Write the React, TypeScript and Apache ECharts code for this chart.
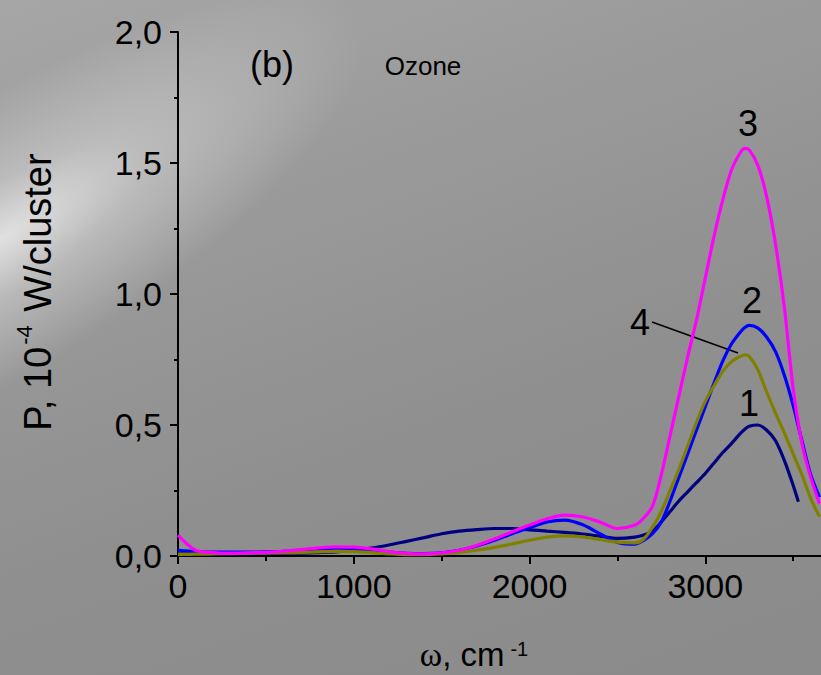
import React, { useEffect, useRef } from 'react';
import * as echarts from 'echarts';

// wavenumber grid (cm^-1)
const omega = [0, 100, 200, 300, 400, 500, 600, 700, 800, 900, 1000, 1100, 1200, 1300, 1400, 1500, 1600, 1700, 1800, 1900, 2000, 2100, 2200, 2300, 2400, 2500, 2600,
  2650, 2700, 2750, 2800, 2850, 2900, 2950, 3000, 3050, 3100, 3150, 3200, 3225, 3250, 3300, 3350, 3400, 3450, 3500, 3550, 3600, 3650];
// curve 1 ends earlier
const omega1 = [0, 100, 200, 300, 400, 500, 600, 700, 800, 900, 1000, 1100, 1200, 1300, 1400, 1500, 1600, 1700, 1800, 1900, 2000, 2100, 2200, 2300, 2400, 2500, 2600,
  2650, 2700, 2750, 2800, 2850, 2900, 2950, 3000, 3050, 3100, 3150, 3200, 3225, 3250, 3300, 3350, 3400, 3450, 3500, 3530];

const curve1 = [0.008, 0.008, 0.008, 0.008, 0.008, 0.009, 0.01, 0.011, 0.013, 0.016, 0.021, 0.03, 0.042, 0.056, 0.07, 0.085, 0.095, 0.101, 0.105, 0.105, 0.1, 0.095, 0.09, 0.084, 0.076, 0.067, 0.072,
  0.08, 0.095, 0.13, 0.17, 0.21, 0.245, 0.28, 0.315, 0.355, 0.395, 0.43, 0.468, 0.484, 0.495, 0.5, 0.48, 0.44, 0.365, 0.27, 0.207];
const curve2 = [0.022, 0.017, 0.015, 0.015, 0.015, 0.016, 0.018, 0.022, 0.027, 0.03, 0.029, 0.023, 0.015, 0.01, 0.009, 0.012, 0.022, 0.038, 0.06, 0.085, 0.108, 0.13, 0.137, 0.12, 0.085, 0.052, 0.045,
  0.06, 0.085, 0.13, 0.21, 0.3, 0.39, 0.48, 0.57, 0.66, 0.745, 0.81, 0.855, 0.872, 0.88, 0.87, 0.835, 0.78, 0.69, 0.575, 0.44, 0.31, 0.225];
const curve3 = [0.08, 0.022, 0.013, 0.011, 0.012, 0.014, 0.018, 0.024, 0.031, 0.035, 0.034, 0.027, 0.017, 0.01, 0.008, 0.012, 0.022, 0.04, 0.065, 0.092, 0.118, 0.142, 0.156, 0.15, 0.13, 0.105, 0.118,
  0.145, 0.19, 0.31, 0.46, 0.61, 0.76, 0.9, 1.06, 1.22, 1.36, 1.475, 1.54, 1.556, 1.55, 1.49, 1.37, 1.19, 0.95, 0.64, 0.43, 0.3, 0.2];
const curve4 = [0.006, 0.007, 0.008, 0.009, 0.01, 0.011, 0.012, 0.014, 0.016, 0.018, 0.017, 0.013, 0.008, 0.005, 0.005, 0.008, 0.014, 0.022, 0.033, 0.046, 0.06, 0.072, 0.077, 0.073, 0.063, 0.053, 0.05,
  0.065, 0.11, 0.17, 0.25, 0.33, 0.42, 0.51, 0.59, 0.65, 0.705, 0.742, 0.762, 0.768, 0.762, 0.71, 0.625, 0.545, 0.47, 0.39, 0.31, 0.22, 0.15];

const curveNames = ['1', '2', '3', '4'];
const curveColors = ['#000080', '#0000ff', '#ff00ff', '#808000'];

const xTickValues = [0, 1000, 2000, 3000];
const xTickLabels = ['0', '1000', '2000', '3000'];
const yTickValues = [0, 0.5, 1, 1.5, 2];
const yTickLabels = ['0,0', '0,5', '1,0', '1,5', '2,0'];

const SANS = '"Liberation Sans", Arial, sans-serif';
const SERIF = '"Liberation Serif", "Times New Roman", serif';

const App = () => {
  const ref = useRef<HTMLDivElement>(null);
  useEffect(() => {
    const chart = echarts.init(ref.current!, null, { renderer: 'svg' });
    const all = [curve1, curve2, curve3, curve4];
    const xs = [omega1, omega, omega, omega];
    const series = all.map((vals, i) => ({
      type: 'line',
      name: curveNames[i],
      data: xs[i].map((x, j) => [x, vals[j]]),
      smooth: 0.3,
      symbol: 'none',
      showSymbol: false,
      lineStyle: { color: curveColors[i], width: 3.2 },
      itemStyle: { color: curveColors[i] },
      z: i === 2 ? 5 : 3,
    }));
    const txt = (text: string, x: number, y: number, size: number) => ({
      type: 'text',
      x,
      y,
      style: { text, fill: '#000', font: `${size}px ${SANS}`, align: 'center', verticalAlign: 'middle' },
    });
    chart.setOption({
      animation: false,
      backgroundColor: 'transparent',
      grid: { left: 178, top: 32, width: 704.6, height: 524 },
      xAxis: {
        type: 'value',
        min: 0,
        max: 4000,
        interval: 1000,
        axisLine: { show: true, onZero: false, lineStyle: { color: '#000', width: 2 } },
        axisTick: { show: true, length: 8, lineStyle: { color: '#000', width: 2 } },
        minorTick: { show: true, splitNumber: 2, length: 5, lineStyle: { color: '#000', width: 2 } },
        splitLine: { show: false },
        axisLabel: {
          margin: 13,
          color: '#000',
          fontSize: 34,
          fontFamily: SANS,
          formatter: (v: number) => {
            const k = xTickValues.indexOf(v);
            return k >= 0 ? xTickLabels[k] : '';
          },
        },
      },
      yAxis: {
        type: 'value',
        min: 0,
        max: 2,
        interval: 0.5,
        axisLine: { show: true, lineStyle: { color: '#000', width: 2 } },
        axisTick: { show: true, length: 8, lineStyle: { color: '#000', width: 2 } },
        minorTick: { show: true, splitNumber: 2, length: 4, lineStyle: { color: '#000', width: 2 } },
        splitLine: { show: false },
        axisLabel: {
          margin: 16,
          color: '#000',
          fontSize: 34,
          fontFamily: SANS,
          formatter: (v: number) => {
            const k = yTickValues.findIndex((t) => Math.abs(t - v) < 1e-9);
            return k >= 0 ? yTickLabels[k] : '';
          },
        },
      },
      series,
      graphic: [
        txt('(b)', 272, 64, 36),
        txt('Ozone', 423, 66, 26),
        txt(curveNames[2], 748, 123, 36),
        txt(curveNames[1], 752, 300, 36),
        txt(curveNames[3], 640, 322, 36),
        txt(curveNames[0], 749, 403, 36),
        {
          type: 'line',
          shape: { x1: 652, y1: 322, x2: 738, y2: 353 },
          style: { stroke: '#000', lineWidth: 1.5 },
        },
        {
          type: 'text',
          x: 35,
          y: 292,
          rotation: Math.PI / 2,
          style: {
            text: '{a|P, 10}{s|-4}{a| W/cluster}',
            align: 'center',
            verticalAlign: 'middle',
            fill: '#000',
            rich: {
              a: { fontSize: 38, fontFamily: SANS, fill: '#000', lineHeight: 44, verticalAlign: 'bottom' },
              s: { fontSize: 22, fontFamily: SANS, fill: '#000', lineHeight: 44, verticalAlign: 'top', padding: [0, 3, 0, 2] },
            },
          },
        },
        {
          type: 'text',
          x: 474,
          y: 655,
          style: {
            text: '{w|ω}{a|, cm}{s|-1}',
            align: 'center',
            verticalAlign: 'middle',
            fill: '#000',
            rich: {
              w: { fontSize: 34, fontFamily: SERIF, fill: '#000', lineHeight: 32, verticalAlign: 'bottom' },
              a: { fontSize: 33, fontFamily: SANS, fill: '#000', lineHeight: 32, verticalAlign: 'bottom' },
              s: { fontSize: 20, fontFamily: SANS, fill: '#000', lineHeight: 32, verticalAlign: 'top', padding: [0, 0, 0, 6] },
            },
          },
        },
      ],
    });
    return () => chart.dispose();
  }, []);
  return (
    <div
      style={{
        position: 'fixed',
        left: 0,
        top: 0,
        width: 821,
        height: 675,
        overflow: 'hidden',
        background: 'linear-gradient(160deg, #a6a6a6 0%, #9a9a9a 30%, #8f8f8f 60%, #8b8b8b 100%)',
      }}
    >
      <div
        style={{
          position: 'absolute',
          left: -250,
          top: 110,
          width: 700,
          height: 260,
          transform: 'rotate(-32deg)',
          transformOrigin: '250px 130px',
          background: 'radial-gradient(ellipse 60% 50% at 36% 50%, rgba(228,228,228,0.95) 0%, rgba(210,210,210,0.55) 40%, rgba(190,190,190,0) 100%)',
          pointerEvents: 'none',
        }}
      />
      <div ref={ref} style={{ position: 'absolute', left: 0, top: 0, width: 884, height: 675 }} />
    </div>
  );
};

export default App;
